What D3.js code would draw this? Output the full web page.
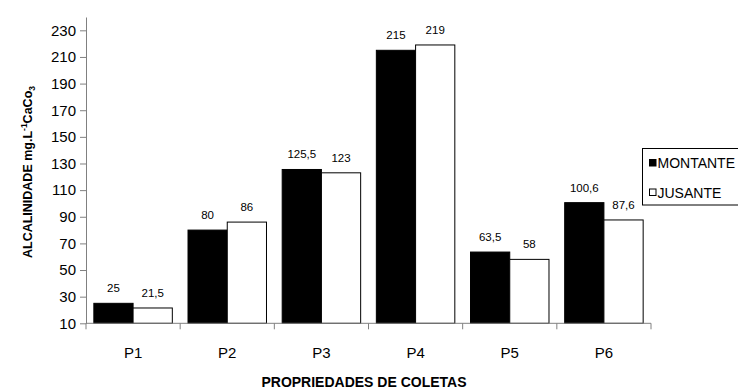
<!DOCTYPE html>
<html>
<head>
<meta charset="utf-8">
<script src="https://cdn.jsdelivr.net/npm/d3@7"></script>
<style>
  body { margin: 0; background: #fff; }
  svg { display: block; font-family: "Liberation Sans", Arial, sans-serif; }
</style>
</head>
<body>
<svg id="chart" width="738" height="390"></svg>
<script>
// Alkalinity per sampling point, upstream (montante) vs downstream (jusante)
const categories = ["P1", "P2", "P3", "P4", "P5", "P6"];
const montante = [25, 80, 125.5, 215, 63.5, 100.6];
const jusante = [21.5, 86, 123, 219, 58, 87.6];
const montanteLabels = ["25", "80", "125,5", "215", "63,5", "100,6"];
const jusanteLabels = ["21,5", "86", "123", "219", "58", "87,6"];
const yTicks = [10, 30, 50, 70, 90, 110, 130, 150, 170, 190, 210, 230];
const seriesNames = ["MONTANTE", "JUSANTE"];

const svg = d3.select("#chart");
const plot = { left: 86, right: 651, top: 17, bottom: 323.3 };

const x = d3.scaleBand().domain(categories).range([plot.left, plot.right]).paddingInner(0).paddingOuter(0);
const inner = d3.scaleBand().domain([0, 1]).range([0, x.bandwidth()]).paddingOuter(0.2).paddingInner(0);
const y = d3.scaleLinear().domain([10, 240]).range([plot.bottom, plot.top]);

const series = [
  { values: montante, labels: montanteLabels, fill: "#000" },
  { values: jusante, labels: jusanteLabels, fill: "#fff" }
];

// bars
series.forEach((s, si) => {
  svg.append("g").selectAll("rect")
    .data(categories)
    .join("rect")
    .attr("x", (c) => x(c) + inner(si))
    .attr("width", inner.bandwidth())
    .attr("y", (c, i) => y(s.values[i]))
    .attr("height", (c, i) => y(10) - y(s.values[i]))
    .attr("fill", s.fill)
    .attr("stroke", "#000")
    .attr("stroke-width", 1);

  svg.append("g").selectAll("text")
    .data(categories)
    .join("text")
    .attr("x", (c) => x(c) + inner(si) + inner.bandwidth() / 2)
    .attr("y", (c, i) => y(s.values[i]) - 11)
    .attr("text-anchor", "middle")
    .attr("font-size", 11.5)
    .attr("fill", "#000")
    .text((c, i) => s.labels[i]);
});

// y axis
const yAxis = svg.append("g")
  .attr("transform", `translate(${plot.left},0)`)
  .call(d3.axisLeft(y).tickValues(yTicks).tickSize(6).tickPadding(4).tickSizeOuter(0).tickFormat(d3.format("d")));
yAxis.select(".domain").attr("stroke", "#808080");
yAxis.selectAll(".tick line").attr("stroke", "#808080");
yAxis.selectAll(".tick text").attr("font-size", 15).attr("fill", "#000")
  .attr("font-family", "'Liberation Sans', Arial, sans-serif");

// x axis with ticks at category boundaries
const xAxis = svg.append("g").attr("transform", `translate(0,${plot.bottom})`);
xAxis.append("line").attr("x1", plot.left).attr("x2", plot.right).attr("stroke", "#808080");
const bounds = categories.map((c) => x(c)).concat([plot.right]);
xAxis.selectAll("line.tk").data(bounds).join("line")
  .attr("class", "tk")
  .attr("x1", (d) => d).attr("x2", (d) => d)
  .attr("y1", 0).attr("y2", 6)
  .attr("stroke", "#808080");
xAxis.selectAll("text").data(categories).join("text")
  .attr("x", (c) => x(c) + x.bandwidth() / 2)
  .attr("y", 35)
  .attr("text-anchor", "middle")
  .attr("font-size", 15)
  .attr("fill", "#000")
  .text((c) => c);

// axis titles
svg.append("text")
  .attr("x", 364).attr("y", 387)
  .attr("text-anchor", "middle")
  .attr("font-size", 14).attr("font-weight", "bold")
  .text("PROPRIEDADES DE COLETAS");

const yTitle = svg.append("text")
  .attr("transform", "translate(32,172) rotate(-90)")
  .attr("text-anchor", "middle")
  .attr("font-size", 12.5).attr("font-weight", "bold");
yTitle.append("tspan").text("ALCALINIDADE mg.L");
yTitle.append("tspan").attr("font-size", 8.5).attr("dy", -5).text("-1");
yTitle.append("tspan").attr("dy", 5).text("CaCo");
yTitle.append("tspan").attr("font-size", 8.5).attr("dy", 3).text("3");

// legend
const legend = svg.append("g");
legend.append("rect")
  .attr("x", 642.5).attr("y", 148.5).attr("width", 110).attr("height", 56.5)
  .attr("fill", "#fff").attr("stroke", "#000");
series.forEach((s, i) => {
  const cy = 163 + i * 29.5;
  legend.append("rect")
    .attr("x", 649.5).attr("y", cy - 3.5).attr("width", 6.5).attr("height", 6.5)
    .attr("fill", s.fill).attr("stroke", "#000");
  legend.append("text")
    .attr("x", 657.5).attr("y", cy + 5)
    .attr("font-size", 14)
    .text(seriesNames[i]);
});
</script>
</body>
</html>
